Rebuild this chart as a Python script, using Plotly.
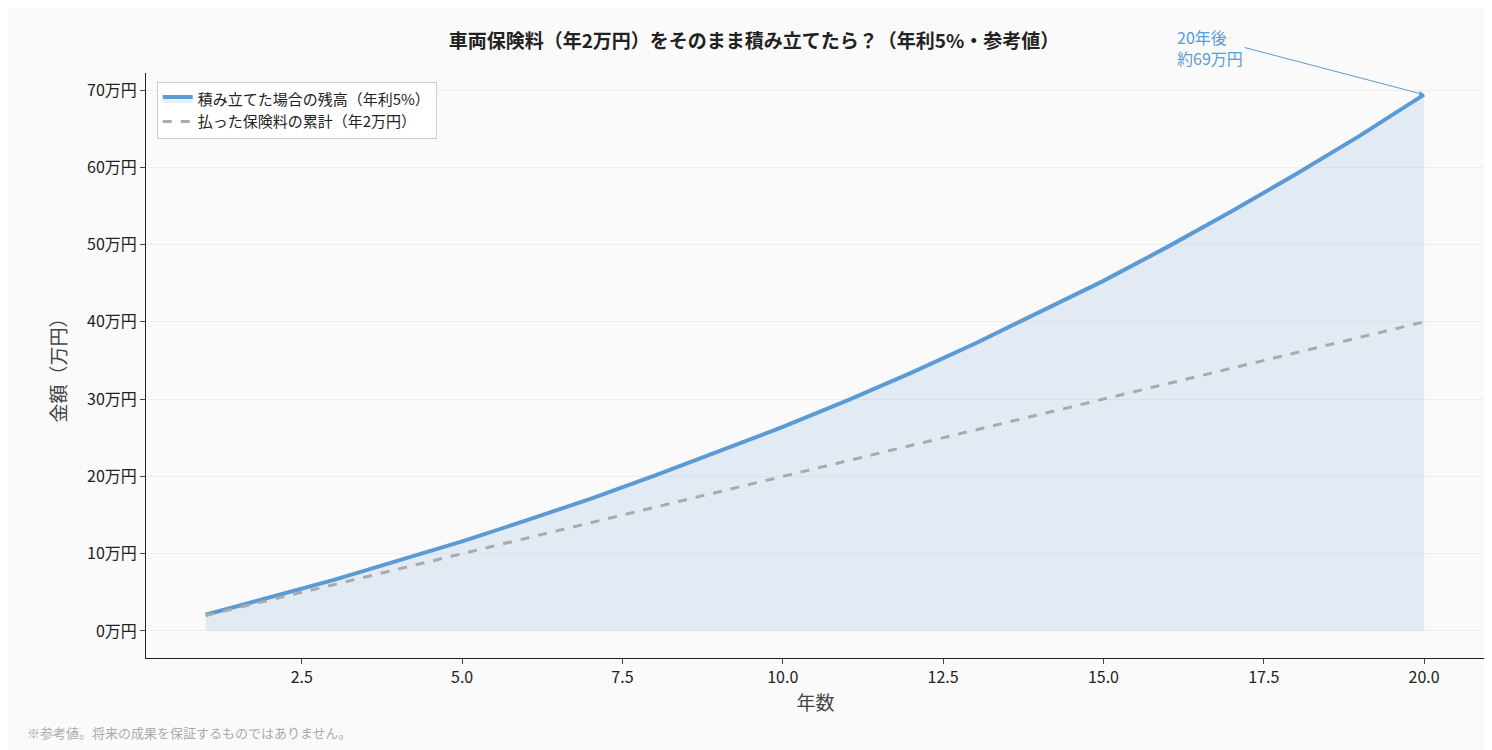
import plotly.graph_objects as go

years = list(range(1, 21))
balance = [2.1, 4.3, 6.6, 9.1, 11.6, 14.3, 17.1, 20.1, 23.2, 26.4,
           29.8, 33.4, 37.2, 41.2, 45.3, 49.7, 54.3, 59.1, 64.1, 69.4]
paid = [2, 4, 6, 8, 10, 12, 14, 16, 18, 20,
        22, 24, 26, 28, 30, 32, 34, 36, 38, 40]
yticks = [0, 10, 20, 30, 40, 50, 60, 70]

font = "Noto Sans CJK JP"
fig = go.Figure()
fig.add_trace(go.Scatter(x=years, y=[0] * len(years), mode="lines",
                         line=dict(width=0), showlegend=False, hoverinfo="skip"))
fig.add_trace(go.Scatter(x=years, y=balance, mode="lines", fill="tonexty",
                         fillcolor="rgba(91,155,213,0.15)",
                         line=dict(color="#5b9bd5", width=4),
                         name="積み立てた場合の残高（年利5%）"))
fig.add_trace(go.Scatter(x=years, y=paid, mode="lines",
                         line=dict(color="#aaaaaa", width=3, dash="dash"),
                         name="払った保険料の累計（年2万円）"))

fig.add_annotation(x=20, y=balance[-1], ax=17.2, ay=75.5, axref="x", ayref="y",
                   text="20年後<br>約69万円", showarrow=True, arrowhead=2, arrowwidth=1,
                   arrowcolor="#5b9bd5", font=dict(color="#5b9bd5", size=16, family=font),
                   align="left", xanchor="right")
fig.add_annotation(x=-0.09, y=-0.128, xref="paper", yref="paper", xanchor="left", yanchor="middle",
                   text="※参考値。将来の成果を保証するものではありません。", showarrow=False,
                   font=dict(color="#aaaaaa", size=13, family=font))

fig.update_layout(
    width=1492, height=750,
    paper_bgcolor="#fafafa", plot_bgcolor="#fafafa",
    margin=dict(l=138, r=15, t=65, b=100),
    font=dict(family=font, size=16, color="#222222"),
    title=dict(text="<b>車両保険料（年2万円）をそのまま積み立てたら？（年利5%・参考値）</b>",
               x=0.5, y=0.965, xanchor="center", font=dict(size=19)),
    legend=dict(x=0.008, y=0.985, bordercolor="#cccccc", borderwidth=1, traceorder="normal",
                bgcolor="rgba(255,255,255,0.9)", font=dict(size=15)),
    xaxis=dict(range=[0.07, 20.95], tickvals=[2.5, 5, 7.5, 10, 12.5, 15, 17.5, 20],
               ticktext=["2.5", "5.0", "7.5", "10.0", "12.5", "15.0", "17.5", "20.0"],
               showgrid=False, showline=True, linecolor="#222222", ticks="outside",
               title=dict(text="年数", font=dict(color="#444444"), standoff=8), zeroline=False),
    yaxis=dict(range=[-3.5, 72.2], tickvals=yticks, ticktext=[f"{v}万円" for v in yticks],
               showgrid=True, gridcolor="#eeeeee", showline=True, linecolor="#222222",
               ticks="outside", zeroline=False,
               title=dict(text="金額（万円）", font=dict(color="#444444"))),
)

fig.write_html("out.html")
